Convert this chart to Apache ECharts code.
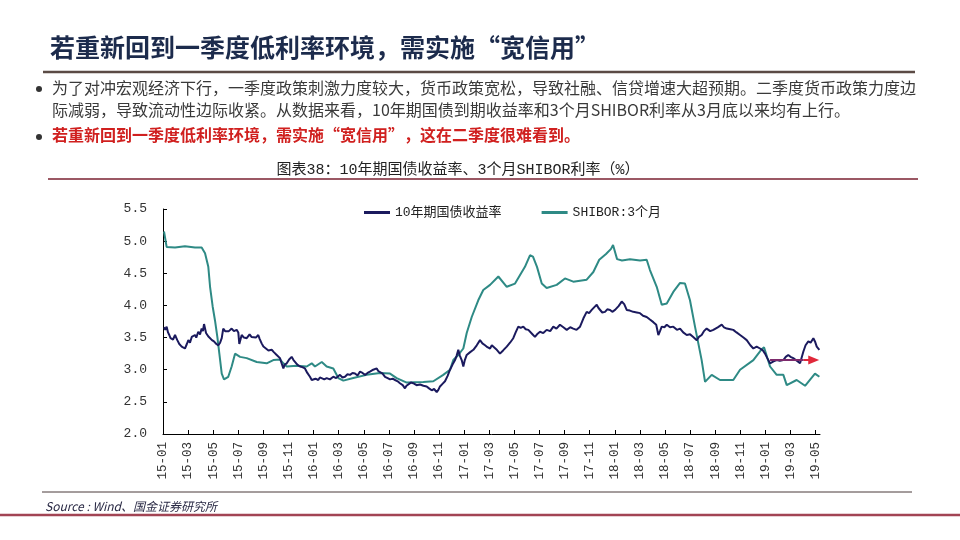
<!DOCTYPE html>
<html><head><meta charset="utf-8">
<script src="https://cdn.jsdelivr.net/npm/echarts@6/dist/echarts.min.js"></script>
<style>html,body{margin:0;padding:0;background:#fff}#c{width:960px;height:540px}</style>
</head><body><div id="c"></div>
<script>
// X tick labels (every 2 months, x value = months since 2015-01)
const xTickLabels = ['15-01','15-03','15-05','15-07','15-09','15-11','16-01','16-03','16-05','16-07','16-09','16-11','17-01','17-03','17-05','17-07','17-09','17-11','18-01','18-03','18-05','18-07','18-09','18-11','19-01','19-03','19-05'];

// 10年期国债收益率: month index since 2015-01, value %
const bondMonth = [0.08,0.18,0.29,0.40,0.50,0.60,0.69,0.80,0.96,1.05,1.14,1.30,1.49,1.62,1.75,1.90,2.02,2.15,2.29,2.40,2.55,2.65,2.81,2.95,3.08,3.18,3.27,3.43,3.60,3.75,3.90,4.06,4.25,4.41,4.55,4.68,4.80,4.95,5.08,5.25,5.47,5.65,5.87,6.00,6.08,6.27,6.45,6.67,6.90,7.05,7.20,7.40,7.59,7.70,7.86,8.00,8.13,8.40,8.66,8.85,9.06,9.20,9.32,9.45,9.59,9.70,9.86,10.05,10.25,10.40,10.52,10.70,10.92,11.10,11.31,11.50,11.71,11.85,11.98,12.15,12.37,12.50,12.65,12.85,13.04,13.30,13.57,13.80,14.10,14.30,14.50,14.70,14.90,15.10,15.30,15.50,15.70,15.90,16.10,16.30,16.49,16.75,17.03,17.15,17.29,17.50,17.69,17.90,18.09,18.30,18.49,18.70,18.88,19.10,19.28,19.40,19.55,19.75,19.94,20.20,20.48,20.75,21.01,21.20,21.41,21.60,21.81,21.95,22.07,22.27,22.47,22.67,22.87,23.07,23.27,23.40,23.53,23.65,23.80,23.93,24.05,24.20,24.45,24.73,25.00,25.26,25.45,25.66,25.85,26.06,26.20,26.32,26.55,26.85,27.10,27.39,27.65,27.91,28.10,28.31,28.50,28.71,28.90,29.11,29.40,29.64,29.85,30.04,30.30,30.57,30.85,31.10,31.35,31.63,31.90,32.17,32.45,32.69,32.95,33.23,33.50,33.76,33.95,34.16,34.35,34.56,34.70,34.82,35.00,35.22,35.40,35.62,35.80,36.02,36.30,36.55,36.75,36.95,37.20,37.47,37.75,38.01,38.25,38.54,38.80,39.07,39.30,39.47,39.60,39.74,39.95,40.14,40.40,40.66,40.95,41.20,41.45,41.73,42.00,42.25,42.53,42.70,42.92,43.10,43.32,43.60,43.85,44.20,44.52,44.70,44.92,45.20,45.44,45.70,45.98,46.25,46.51,46.80,47.04,47.30,47.57,47.80,47.97,48.15,48.37,48.65,48.90,49.15,49.43,49.62,49.82,50.00,50.22,50.50,50.76,51.02,51.20,51.42,51.60,51.82,51.95,52.09,52.20,52.30];
const bondRate = [3.66,3.62,3.67,3.58,3.54,3.49,3.51,3.47,3.54,3.50,3.46,3.40,3.36,3.33,3.33,3.40,3.46,3.42,3.51,3.48,3.54,3.50,3.59,3.55,3.64,3.60,3.71,3.57,3.52,3.49,3.46,3.44,3.40,3.38,3.42,3.49,3.64,3.60,3.62,3.60,3.64,3.60,3.62,3.58,3.40,3.54,3.50,3.49,3.55,3.51,3.54,3.50,3.54,3.48,3.41,3.36,3.33,3.30,3.31,3.27,3.23,3.20,3.18,3.10,3.02,3.08,3.10,3.16,3.20,3.15,3.12,3.08,3.05,3.04,3.02,2.95,2.89,2.84,2.81,2.86,2.84,2.88,2.89,2.85,2.87,2.85,2.89,2.87,2.92,2.88,2.89,2.93,2.92,2.95,2.94,2.91,2.97,2.95,2.92,2.95,2.97,3.00,3.02,2.98,3.00,2.94,2.89,2.87,2.85,2.86,2.84,2.82,2.79,2.76,2.71,2.75,2.76,2.80,2.79,2.76,2.77,2.75,2.74,2.71,2.68,2.70,2.65,2.69,2.74,2.78,2.82,2.90,3.00,3.08,3.15,3.22,3.31,3.22,3.15,3.05,3.15,3.23,3.27,3.31,3.38,3.46,3.41,3.38,3.35,3.33,3.38,3.41,3.32,3.25,3.30,3.36,3.42,3.49,3.58,3.67,3.65,3.67,3.63,3.62,3.56,3.51,3.56,3.59,3.57,3.62,3.60,3.67,3.64,3.70,3.66,3.62,3.66,3.64,3.62,3.67,3.80,3.90,3.88,3.93,3.97,4.01,3.96,3.95,3.89,3.90,3.94,3.93,3.90,3.93,3.99,4.06,4.02,3.93,3.92,3.90,3.89,3.88,3.84,3.82,3.78,3.74,3.70,3.54,3.60,3.67,3.66,3.70,3.66,3.67,3.62,3.64,3.58,3.54,3.55,3.51,3.46,3.51,3.54,3.60,3.64,3.60,3.62,3.66,3.70,3.66,3.64,3.63,3.62,3.58,3.54,3.50,3.46,3.38,3.33,3.36,3.33,3.30,3.25,3.18,3.10,3.13,3.15,3.14,3.15,3.20,3.23,3.20,3.18,3.14,3.10,3.28,3.38,3.44,3.42,3.49,3.44,3.36,3.34,3.31];

// SHIBOR:3个月
const shiborMonth = [0.08,0.29,0.96,1.75,2.55,3.08,3.35,3.61,3.75,3.96,4.14,4.33,4.49,4.68,4.86,5.20,5.47,5.74,6.14,6.67,7.47,8.26,8.79,9.32,9.59,9.86,10.65,11.45,11.85,12.11,12.65,13.04,13.57,13.97,14.37,15.16,16.23,17.29,18.09,18.62,19.42,20.74,21.54,22.33,22.87,23.13,23.53,23.93,24.20,24.60,25.12,25.52,26.06,26.72,27.39,28.05,28.84,29.24,29.48,29.80,30.18,30.57,31.37,32.03,32.69,33.76,34.29,34.76,35.30,35.70,35.86,36.18,36.57,37.21,38.01,38.54,38.80,39.34,39.74,40.14,40.66,41.20,41.59,41.99,42.39,42.92,43.19,43.72,44.38,45.44,45.98,47.04,47.71,47.89,48.37,48.90,49.43,49.70,50.49,51.16,51.95,52.30];
const shiborRate = [5.15,4.91,4.90,4.92,4.90,4.90,4.81,4.60,4.29,3.98,3.77,3.51,3.25,2.94,2.85,2.89,3.05,3.25,3.20,3.18,3.12,3.10,3.15,3.16,3.10,3.05,3.06,3.05,3.10,3.05,3.12,3.05,3.02,2.87,2.83,2.87,2.92,2.95,2.94,2.87,2.80,2.81,2.82,2.92,3.00,3.15,3.23,3.33,3.57,3.82,4.08,4.24,4.32,4.45,4.29,4.34,4.60,4.78,4.76,4.60,4.34,4.27,4.32,4.42,4.37,4.40,4.52,4.71,4.80,4.88,4.94,4.72,4.70,4.72,4.70,4.71,4.55,4.29,4.01,4.03,4.21,4.35,4.34,4.08,3.67,3.15,2.81,2.92,2.84,2.84,3.00,3.15,3.32,3.35,3.05,2.92,2.92,2.76,2.84,2.75,2.94,2.89];

// Annotation arrow (month index, value)
const arrowStart = [48.37, 3.15];
const arrowMid = [51.05, 3.15];
const arrowEnd = [51.85, 3.15];

const seriesNames = ['10年期国债收益率', 'SHIBOR:3个月'];

const monoCJK = '"Liberation Mono", "Noto Sans CJK SC"';

const option = {
  animation: false,
  backgroundColor: '#ffffff',
  grid: { left: 163, right: 140, top: 209, bottom: 106, containLabel: false },
  legend: {
    data: seriesNames,
    left: 364, top: 206,
    itemWidth: 26, itemHeight: 3, itemGap: 40,
    icon: 'rect',
    textStyle: { fontFamily: monoCJK, fontSize: 13, color: '#222' },
    padding: 0
  },
  xAxis: {
    type: 'value', min: 0, max: 52.35, interval: 2,
    axisLine: { show: true, lineStyle: { color: '#000', width: 1 } },
    axisTick: { show: true, inside: true, length: 4, lineStyle: { color: '#000' } },
    splitLine: { show: false },
    axisLabel: {
      rotate: 90, margin: 8, fontFamily: monoCJK, fontSize: 12.5, color: '#333',
      showMaxLabel: false,
      formatter: function (v) { const i = Math.round(v / 2); return (Math.abs(v / 2 - i) < 1e-6 && xTickLabels[i]) ? xTickLabels[i] : ''; }
    }
  },
  yAxis: {
    type: 'value', min: 2, max: 5.5, interval: 0.5,
    axisLine: { show: true, lineStyle: { color: '#000', width: 1 } },
    axisTick: { show: true, inside: true, length: 4, lineStyle: { color: '#000' } },
    splitLine: { show: false },
    axisLabel: { margin: 16, fontFamily: monoCJK, fontSize: 13, color: '#333', formatter: v => v.toFixed(1) }
  },
  series: [
    {
      name: seriesNames[0], type: 'line', showSymbol: false, symbol: 'none',
      data: bondMonth.map((m, i) => [m, bondRate[i]]),
      lineStyle: { color: '#1b1a5e', width: 2 }, itemStyle: { color: '#1b1a5e' }, z: 3,
      markLine: {
        silent: true, animation: false,
        symbol: ['none', 'none'],
        label: { show: false },
        lineStyle: { color: '#7d2a6c', width: 2, type: 'solid' },
        data: [
          [{ coord: arrowStart, symbol: 'none' }, { coord: arrowMid, symbol: 'none' }],
          [{ coord: arrowMid, symbol: 'none', lineStyle: { color: '#e0283a', width: 2, type: 'solid' } },
           { coord: arrowEnd, symbol: 'triangle', symbolSize: [9, 11], lineStyle: { color: '#e0283a', width: 2, type: 'solid' } }]
        ]
      }
    },
    {
      name: seriesNames[1], type: 'line', showSymbol: false, symbol: 'none',
      data: shiborMonth.map((m, i) => [m, shiborRate[i]]),
      lineStyle: { color: '#2e8a85', width: 2 }, itemStyle: { color: '#2e8a85' }, z: 2
    }
  ],
  graphic: [
    { type: 'text', x: 50, y: 47, style: { text: '若重新回到一季度低利率环境，需实施“宽信用”', font: 'bold 25px "Noto Sans CJK SC"', fill: '#1c2b4c', textVerticalAlign: 'middle' } },
    { type: 'line', shape: { x1: 43, y1: 72, x2: 915, y2: 72 }, style: { stroke: '#5b4b45', lineWidth: 2.5 } },
    { type: 'circle', shape: { cx: 39, cy: 89, r: 3 }, style: { fill: '#333' } },
    { type: 'text', x: 52, y: 88, style: { text: '为了对冲宏观经济下行，一季度政策刺激力度较大，货币政策宽松，导致社融、信贷增速大超预期。二季度货币政策力度边', font: '16px "Noto Sans CJK SC"', fill: '#3a3a3a', textVerticalAlign: 'middle' } },
    { type: 'text', x: 52, y: 110, style: { text: '际减弱，导致流动性边际收紧。从数据来看，10年期国债到期收益率和3个月SHIBOR利率从3月底以来均有上行。', font: '16px "Noto Sans CJK SC"', fill: '#3a3a3a', textVerticalAlign: 'middle' } },
    { type: 'circle', shape: { cx: 39, cy: 137, r: 3 }, style: { fill: '#333' } },
    { type: 'text', x: 52, y: 135, style: { text: '若重新回到一季度低利率环境，需实施“宽信用”，这在二季度很难看到。', font: 'bold 16px "Noto Sans CJK SC"', fill: '#d0201f', textVerticalAlign: 'middle' } },
    { type: 'text', x: 458, y: 170, style: { text: '图表38：10年期国债收益率、3个月SHIBOR利率（%）', font: '15px ' + monoCJK, fill: '#222', textAlign: 'center', textVerticalAlign: 'middle' } },
    { type: 'line', shape: { x1: 48, y1: 179, x2: 918, y2: 179 }, style: { stroke: '#7a2030', lineWidth: 1.5 } },
    { type: 'line', shape: { x1: 42, y1: 492, x2: 912, y2: 492 }, style: { stroke: '#4a3a3a', lineWidth: 1 } },
    { type: 'text', x: 45, y: 506, style: { text: 'Source : Wind、国金证券研究所', font: 'italic 12px "Noto Sans CJK SC"', fill: '#2a2a45', textVerticalAlign: 'middle' } },
    { type: 'line', shape: { x1: 0, y1: 515, x2: 960, y2: 515 }, style: { stroke: '#a24454', lineWidth: 2.5 } }
  ]
};

const chart = echarts.init(document.getElementById('c'), null, { renderer: 'canvas' });
chart.setOption(option);
</script></body></html>
